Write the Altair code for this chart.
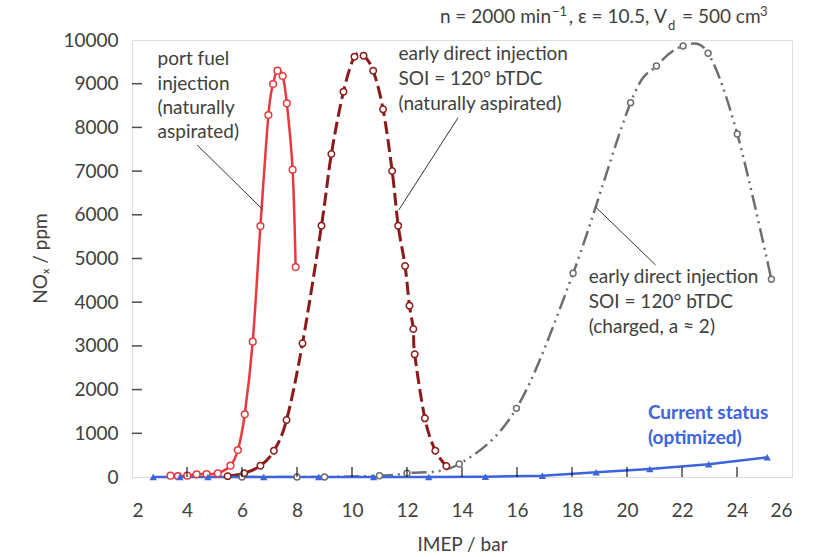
import altair as alt
import pandas as pd

FONT = "Lato"
TXT = "#404040"

# ---- data ----
red_x = [3.40, 3.67, 4.01, 4.35, 4.71, 5.12, 5.58, 5.85, 6.10, 6.39, 6.67, 6.96, 7.13, 7.29, 7.48, 7.63, 7.84, 7.95]
red_y = [30, 23, 30, 62, 69, 85, 259, 618, 1435, 3096, 5743, 8284, 8993, 9298, 9176, 8551, 7033, 4805]

dark_x = [5.48, 6.08, 6.67, 7.16, 7.62, 8.20, 8.89, 9.25, 9.69, 10.09, 10.42, 10.77, 11.13, 11.46, 11.68,
          11.93, 12.09, 12.23, 12.28, 12.65, 13.03, 13.43]
dark_y = [20, 85, 259, 602, 1304, 3059, 5751, 7391, 8818, 9618, 9641, 9298, 8414, 7002, 5751,
          4828, 3921, 3387, 2807, 1343, 602, 252]

gray_x = [6.0, 8.0, 9.0, 11.0, 12.0, 13.9, 15.98, 18.04, 20.13, 21.07, 22.04, 22.95, 24.01, 25.25]
gray_y = [0, 0, 0, 30, 85, 297, 1571, 4661, 8566, 9405, 9863, 9695, 7849, 4524]

blue_x = [2.77, 3.74, 4.76, 6.79, 8.79, 10.79, 12.79, 14.85, 16.92, 18.88, 20.83, 22.97, 25.10]
blue_y = [0, 0, 0, 0, 0, 0, 0, 7, 30, 107, 183, 290, 450]

x_ticks = [2, 4, 6, 8, 10, 12, 14, 16, 18, 20, 22, 24, 26]
y_ticks = [0, 1000, 2000, 3000, 4000, 5000, 6000, 7000, 8000, 9000, 10000]

# annotation text lines (data coordinates)
ann_text = ["port fuel", "injection", "(naturally", "aspirated)",
            "early direct injection", "SOI = 120° bTDC", "(naturally aspirated)",
            "early direct injection", "SOI = 120° bTDC", "(charged, a ≈ 2)"]
ann_x = [2.93, 2.93, 2.93, 2.93,
         11.69, 11.69, 11.69,
         18.61, 18.61, 18.61]
ann_y = [9565, 8993, 8444, 7895,
         9680, 9107, 8535,
         4584, 4011, 3439]

status_text = ["Current status", "(optimized)"]
status_x = [20.76, 20.76]
status_y = [1457, 886]

# leader lines
lead_x = [4.37, 13.86, 18.85]
lead_y = [7597, 8222, 6185]
lead_x2 = [6.77, 11.70, 21.04]
lead_y2 = [6110, 6110, 4851]

# header pieces
head_text = ["n = 2000 min", "−1", ", ε = 10.5, V", "d", "= 500 cm", "3"]


def sdf(xs, ys):
    return pd.DataFrame({"imep": xs, "nox": ys})


xs = alt.Scale(domain=[2, 26], nice=False, zero=False)
ys = alt.Scale(domain=[0, 10000], nice=False)

X = alt.X("imep:Q", scale=xs, axis=alt.Axis(
    values=x_ticks, grid=False, domain=False, ticks=False, format="d",
    labelFont=FONT, labelFontSize=19, labelColor=TXT, labelPadding=24,
    title="IMEP / bar", titleFont=FONT, titleFontSize=19, titleFontWeight="normal",
    titleColor=TXT, titleY=67, titleBaseline="middle"))
Y = alt.Y("nox:Q", scale=ys, axis=alt.Axis(
    values=y_ticks, grid=False, domain=False, ticks=False, format="d",
    labelFont=FONT, labelFontSize=19, labelColor=TXT, labelPadding=14,
    title="NOₓ / ppm", titleFont=FONT, titleFontSize=19, titleFontWeight="normal",
    titleColor=TXT, titleAngle=270, titleX=-92, titleY=218, titleAlign="center",
    titleBaseline="middle"))

RED = "#E8393E"
DARK = "#8B1A1A"
GRAY = "#6E6E6E"
BLUE = "#3D63DD"


def series(xv, yv, color, width, dash, size):
    d = sdf(xv, yv)
    line_kw = dict(interpolate="cardinal", color=color, strokeWidth=width, clip=True)
    if dash:
        line_kw["strokeDash"] = dash
    line = alt.Chart(d).mark_line(**line_kw).encode(x=X, y=Y)
    pts = alt.Chart(d).mark_point(shape="circle", fill="white", fillOpacity=1, stroke=color,
                                  strokeWidth=1.5, size=size, opacity=1).encode(x=X, y=Y)
    return line, pts


g_line, g_pts = series(gray_x, gray_y, GRAY, 2.5, [15, 5, 2, 5, 2, 5], 35)
d_line, d_pts = series(dark_x, dark_y, DARK, 3, [13, 5], 42)
r_line, r_pts = series(red_x, red_y, RED, 2.5, None, 45)

bd = sdf(blue_x, blue_y)
b_line = alt.Chart(bd).mark_line(color=BLUE, strokeWidth=2.5).encode(x=X, y=Y)
b_pts = alt.Chart(bd).mark_point(shape="triangle-up", filled=True, color=BLUE, size=55,
                                 opacity=1).encode(x=X, y=Y)

# inward ticks
xt = alt.Chart(pd.DataFrame({"imep": x_ticks[1:-1]})).mark_tick(
    orient="vertical", color="black", thickness=1.5, size=10).encode(x=X, y=alt.value(432))
yt = alt.Chart(pd.DataFrame({"nox": y_ticks[1:-1]})).mark_tick(
    orient="horizontal", color="black", thickness=1.5, size=10).encode(y=Y, x=alt.value(5))

lead = alt.Chart(pd.DataFrame({"imep": lead_x, "nox": lead_y, "x2": lead_x2, "y2": lead_y2})).mark_rule(
    color="#333333", strokeWidth=1).encode(x=X, y=Y, x2="x2:Q", y2="y2:Q")

ann = alt.Chart(pd.DataFrame({"imep": ann_x, "nox": ann_y, "t": ann_text})).mark_text(
    align="left", baseline="middle", font=FONT, fontSize=19, color=TXT).encode(x=X, y=Y, text="t:N")

status = alt.Chart(pd.DataFrame({"imep": status_x, "nox": status_y, "t": status_text})).mark_text(
    align="left", baseline="middle", font=FONT, fontSize=19, fontWeight="bold", color=BLUE).encode(
    x=X, y=Y, text="t:N")


def head(txt, xpx, ypx, size, align):
    return alt.Chart(pd.DataFrame({"t": [txt]})).mark_text(
        align=align, baseline="middle", font=FONT, fontSize=size, color=TXT).encode(
        x=alt.value(xpx), y=alt.value(ypx), text="t:N")


h1 = head(head_text[0], 419, -23, 19, "right")
h2 = head(head_text[1], 420, -28, 13, "left")
h3 = head(head_text[2], 535, -23, 19, "right")
h4 = head(head_text[3], 536, -14, 13, "left")
h5 = head(head_text[4], 550, -23, 19, "left")
h6 = head(head_text[5], 628, -28, 13, "left")

chart = alt.layer(
    g_line, d_line, r_line, b_line, g_pts, d_pts, r_pts, b_pts, xt, yt, lead, ann, status,
    h1, h2, h3, h4, h5, h6
).properties(
    width=660, height=437,
    autosize=alt.AutoSizeParams(type="none"),
    padding={"left": 132, "top": 40, "right": 24, "bottom": 80},
).configure_view(stroke="black", strokeWidth=2).configure(background="white")

chart.save("out.html", embed_options={"renderer": "svg", "actions": False})
